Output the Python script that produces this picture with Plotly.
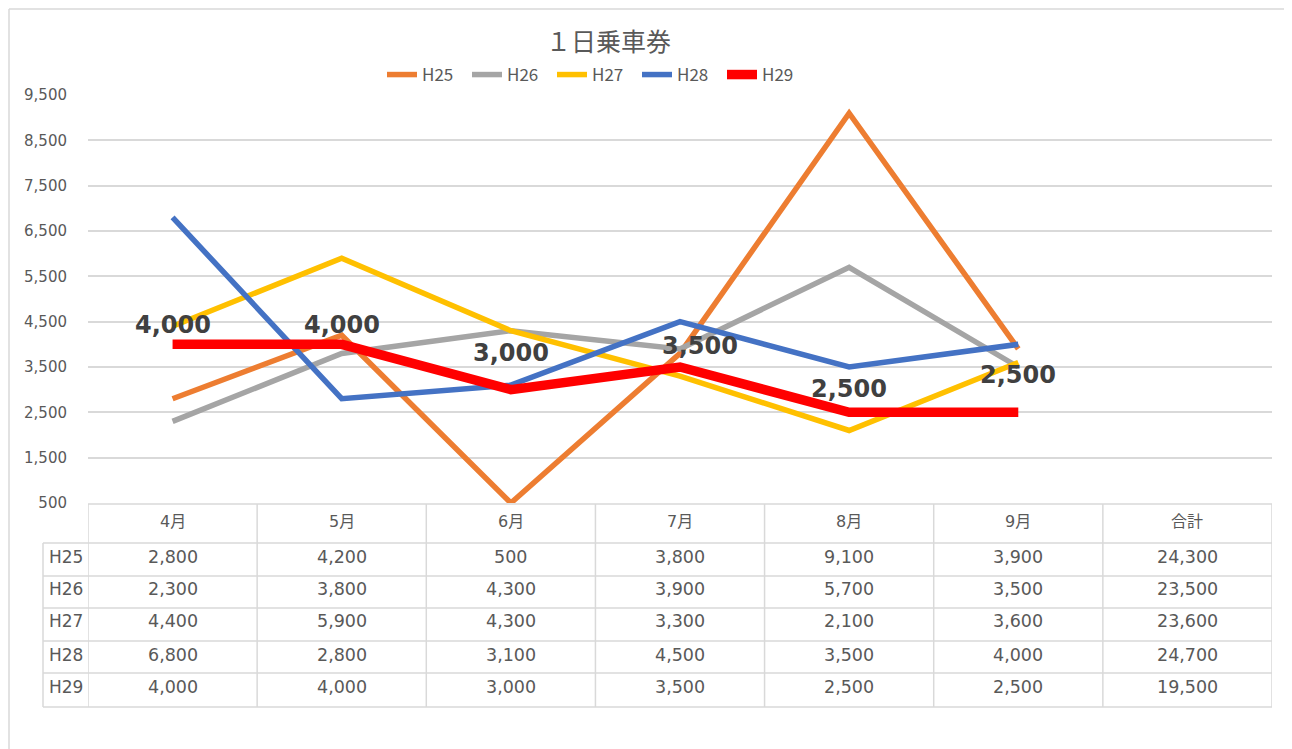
import plotly.graph_objects as go

# ---------------- data ----------------
CATEGORIES = ["4月", "5月", "6月", "7月", "8月", "9月", "合計"]
MONTHS = CATEGORIES[:6]
SERIES_NAMES = ["H25", "H26", "H27", "H28", "H29"]
H25 = [2800, 4200, 500, 3800, 9100, 3900]
H26 = [2300, 3800, 4300, 3900, 5700, 3500]
H27 = [4400, 5900, 4300, 3300, 2100, 3600]
H28 = [6800, 2800, 3100, 4500, 3500, 4000]
H29 = [4000, 4000, 3000, 3500, 2500, 2500]
Y_TICKS = [500, 1500, 2500, 3500, 4500, 5500, 6500, 7500, 8500, 9500]
TITLE = "１日乗車券"

SERIES = [H25, H26, H27, H28, H29]

# ---------------- style ----------------
COLORS = ["#ED7D31", "#A5A5A5", "#FFC000", "#4472C4", "#FF0000"]
WIDTHS = [5.5, 5.5, 5.5, 5.5, 9.5]
LABEL_DY = [19, 19, 37, 21, 23, 37]   # label offsets (px) above the H29 points
LABEL_DX = [0, 0, 0, 20, 0, 0]
GRID = "#D9D9D9"
TXT = "#595959"
NUMFONT = "DejaVu Sans, Noto Sans CJK JP"

OFF = 8                      # page body margin of the browser
W, H = 1292 - OFF, 749 - OFF
# plot area in page pixels
PL, PR, PT, PB = 88, 1272, 95, 503


def px_x(p):
    return (p - PL) / (PR - PL)


def px_y(p):
    return (PB - p) / (PB - PT)


fig = go.Figure()
for name, vals, c, w in zip(SERIES_NAMES, SERIES, COLORS, WIDTHS):
    fig.add_trace(go.Scatter(
        x=MONTHS, y=vals, name=name, mode="lines",
        line=dict(color=c, width=w), cliponaxis=False,
        hoverinfo="x+y+name",
    ))

annotations = []
shapes = []

# title
annotations.append(dict(
    text=TITLE, x=px_x(608), y=px_y(40), xref="paper", yref="paper",
    xanchor="center", yanchor="middle", showarrow=False,
    font=dict(family="Noto Sans CJK JP", size=25, color=TXT)))

# data labels for H29
for i, (m, v) in enumerate(zip(MONTHS, H29)):
    annotations.append(dict(
        text=f"{v:,}", x=m, y=v, xref="x", yref="y", showarrow=False,
        xanchor="center", yanchor="middle", yshift=LABEL_DY[i], xshift=LABEL_DX[i],
        font=dict(family="DejaVu Sans", size=24, color="#404040", weight="bold")))

# data table
row_lines = [504, 543, 576, 608, 641, 673, 707]
row_text_y = [557, 589, 621, 655, 687]
header_y = 521
TL = 43
for k, yy in enumerate(row_lines):
    x0 = PL if k == 0 else TL
    shapes.append(dict(type="line", xref="paper", yref="paper",
                       x0=px_x(x0), x1=px_x(PR), y0=px_y(yy), y1=px_y(yy),
                       line=dict(color=GRID, width=1.5)))
shapes.append(dict(type="line", xref="paper", yref="paper",
                   x0=px_x(TL), x1=px_x(TL), y0=px_y(543), y1=px_y(707),
                   line=dict(color=GRID, width=1.5)))
for k in range(len(CATEGORIES) + 1):
    shapes.append(dict(type="line", xref="x", yref="paper",
                       x0=k - 0.5, x1=k - 0.5, y0=px_y(504), y1=px_y(707),
                       line=dict(color=GRID, width=1.5)))

for j, cat in enumerate(CATEGORIES):
    annotations.append(dict(
        text=cat, x=j, y=px_y(header_y), xref="x", yref="paper", showarrow=False,
        xanchor="center", yanchor="middle",
        font=dict(family=NUMFONT, size=16, color=TXT)))

for i, (name, vals) in enumerate(zip(SERIES_NAMES, SERIES)):
    yy = px_y(row_text_y[i])
    annotations.append(dict(
        text=name, x=px_x(47), y=yy, xref="paper", yref="paper", showarrow=False,
        xanchor="left", yanchor="middle",
        font=dict(family=NUMFONT, size=17, color=TXT)))
    cells = list(vals) + [sum(vals)]
    for j, v in enumerate(cells):
        annotations.append(dict(
            text=f"{v:,}", x=j, y=yy, xref="x", yref="paper", showarrow=False,
            xanchor="center", yanchor="middle",
            font=dict(family=NUMFONT, size=17.5, color=TXT)))

# outer chart frame (left, top, right edges)
for (xa, xb, ya, yb) in [(9, 9, 9, 760), (9, 1287, 9, 9), (1287, 1287, 9, 760)]:
    shapes.append(dict(type="line", xref="paper", yref="paper",
                       x0=px_x(xa), x1=px_x(xb), y0=px_y(ya), y1=px_y(yb),
                       line=dict(color=GRID, width=1.5), layer="below"))

fig.update_layout(
    width=W, height=H, autosize=False,
    margin=dict(l=PL - OFF, r=1292 - PR, t=PT - OFF, b=749 - PB, pad=0),
    paper_bgcolor="white", plot_bgcolor="white",
    font=dict(family="Noto Sans CJK JP", color=TXT),
    showlegend=True,
    legend=dict(orientation="h", x=px_x(382), y=px_y(75), xanchor="left", yanchor="middle",
                font=dict(family="Noto Sans CJK JP", size=17, color=TXT),
                bgcolor="rgba(0,0,0,0)", entrywidth=40, entrywidthmode="pixels",
                itemwidth=30, tracegroupgap=0),
    xaxis=dict(type="category", categoryorder="array", categoryarray=CATEGORIES,
               range=[-0.5, len(CATEGORIES) - 0.5], showticklabels=False,
               showgrid=False, zeroline=False, showline=False, fixedrange=True),
    yaxis=dict(range=[500, 9500], tickvals=Y_TICKS, tickformat=",",
               showgrid=True, gridcolor=GRID, gridwidth=1.5, zeroline=False,
               showline=False, ticks="", ticklabelstandoff=20,
               tickfont=dict(family="DejaVu Sans", size=15, color=TXT)),
    annotations=annotations, shapes=shapes,
)

fig.write_html("out.html")
